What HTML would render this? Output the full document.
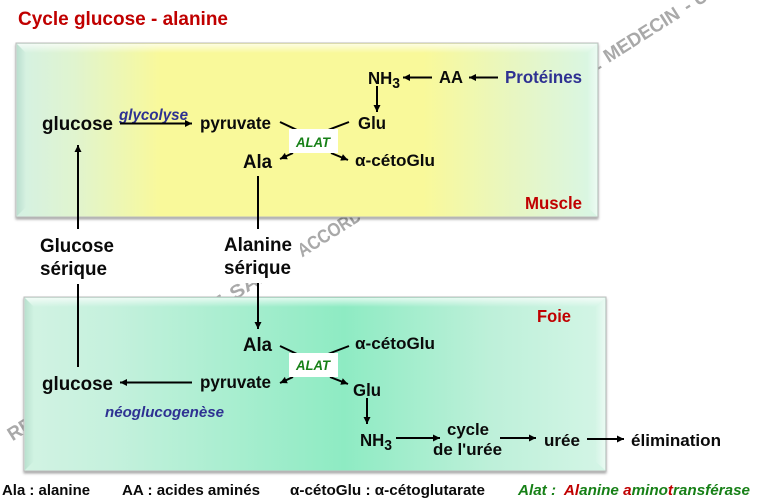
<!DOCTYPE html>
<html><head><meta charset="utf-8"><style>
html,body{margin:0;padding:0;background:#fff}
svg{display:block}
text{font-family:"Liberation Sans",sans-serif;font-weight:bold;fill:#0a0a0a}
.i{font-style:italic}
.b{fill:#2e3192}.r{fill:#c00000}.g{fill:#178017}
line{stroke:#000;stroke-width:2}
</style></head><body>
<svg width="771" height="502" viewBox="0 0 771 502" xmlns="http://www.w3.org/2000/svg">
<defs>
<marker id="a" markerUnits="userSpaceOnUse" markerWidth="9" markerHeight="8" refX="7" refY="4" orient="auto"><path d="M0 .5L7 4L0 7.5z" fill="#000"/></marker>
<linearGradient id="y" x1="0" x2="1" y1="0" y2="0">
<stop offset="0" stop-color="#d4f1e4"/><stop offset=".1" stop-color="#e0f4cf"/><stop offset=".25" stop-color="#f9f99a"/><stop offset=".7" stop-color="#f9f99a"/><stop offset=".88" stop-color="#e5f6c8"/><stop offset="1" stop-color="#d8f6e6"/></linearGradient>
<linearGradient id="f" x1="0" x2="1" y1="0" y2="0">
<stop offset="0" stop-color="#d2f3e3"/><stop offset=".15" stop-color="#c5f1dd"/><stop offset=".55" stop-color="#8eebc3"/><stop offset=".8" stop-color="#bdf0d9"/><stop offset="1" stop-color="#d4f5e6"/></linearGradient>
<linearGradient id="tw" x1="0" x2="0" y1="0" y2="1"><stop offset="0" stop-color="#fff" stop-opacity=".7"/><stop offset="1" stop-color="#fff" stop-opacity="0"/></linearGradient>
<linearGradient id="ld" x1="0" x2="1" y1="0" y2="0"><stop offset="0" stop-color="#7fb5a0" stop-opacity=".3"/><stop offset="1" stop-color="#7fb5a0" stop-opacity="0"/></linearGradient>
<linearGradient id="rl" x1="1" x2="0" y1="0" y2="0"><stop offset="0" stop-color="#fff" stop-opacity=".5"/><stop offset="1" stop-color="#fff" stop-opacity="0"/></linearGradient>
<filter id="s" x="-2%" y="-3%" width="104%" height="108%"><feDropShadow dx="0" dy="2" stdDeviation="1.2" flood-color="#000" flood-opacity=".35"/></filter>
</defs>

<g transform="translate(10 443) rotate(-32.4)" style="font-size:19px">
<text x="3" y="0" style="fill:#a9a9a9" textLength="255" lengthAdjust="spacingAndGlyphs">REPRODUCTION INTERDITE</text>
<text x="266" y="0" style="fill:#a9a9a9" textLength="60" lengthAdjust="spacingAndGlyphs">SANS</text>
<text x="346" y="0" style="fill:#a9a9a9" textLength="72" lengthAdjust="spacingAndGlyphs">ACCORD</text>
<text x="689" y="0" style="fill:#a9a9a9">E</text>
<text x="709" y="0" style="fill:#a9a9a9" textLength="86" lengthAdjust="spacingAndGlyphs">MEDECIN</text>
<text x="803" y="0" style="fill:#a9a9a9">- U</text>
</g>
<rect x="222" y="232" width="78" height="51" fill="#fff"/>

<text x="18" y="25" class="r" style="font-size:19.5px" textLength="210" lengthAdjust="spacingAndGlyphs">Cycle glucose - alanine</text>

<!-- Muscle panel -->
<rect x="16" y="43" width="582" height="174" fill="url(#y)" stroke="#bdbdbd" filter="url(#s)"/>
<polygon points="17,44 597,44 587,53 26,53" fill="url(#tw)"/>
<polygon points="17,44 26,53 26,207 17,216" fill="url(#ld)"/>
<polygon points="597,44 587,53 587,207 597,216" fill="url(#rl)"/>

<!-- Foie panel -->
<rect x="24" y="297" width="582" height="174" fill="url(#f)" stroke="#bdbdbd" filter="url(#s)"/>
<polygon points="25,298 605,298 595,307 34,307" fill="url(#tw)"/>
<polygon points="25,298 34,307 34,461 25,470" fill="url(#ld)"/>
<polygon points="605,298 595,307 595,461 605,470" fill="url(#rl)"/>

<!-- Muscle content -->
<text x="42" y="130" style="font-size:19px" textLength="71" lengthAdjust="spacingAndGlyphs">glucose</text>
<text x="119" y="120" class="i b" style="font-size:15.5px" textLength="69" lengthAdjust="spacingAndGlyphs">glycolyse</text>
<line x1="120" y1="123.5" x2="192" y2="123.5" marker-end="url(#a)"/>
<text x="200" y="129" style="font-size:17.5px" textLength="71" lengthAdjust="spacingAndGlyphs">pyruvate</text>
<text x="358" y="129" style="font-size:17.5px" textLength="28" lengthAdjust="spacingAndGlyphs">Glu</text>
<text x="243" y="168" style="font-size:19.5px" textLength="29" lengthAdjust="spacingAndGlyphs">Ala</text>
<text x="355" y="166" style="font-size:17px" textLength="80" lengthAdjust="spacingAndGlyphs">α-cétoGlu</text>
<text x="368" y="84" style="font-size:17.5px" textLength="32" lengthAdjust="spacingAndGlyphs">NH<tspan dy="4" style="font-size:14.5px">3</tspan></text>
<text x="439" y="83" style="font-size:17.5px" textLength="24" lengthAdjust="spacingAndGlyphs">AA</text>
<text x="505" y="83" class="b" style="font-size:17.5px" textLength="77" lengthAdjust="spacingAndGlyphs">Protéines</text>
<text x="525" y="209" class="r" style="font-size:17.5px" textLength="57" lengthAdjust="spacingAndGlyphs">Muscle</text>
<line x1="432" y1="77.5" x2="403" y2="77.5" marker-end="url(#a)"/>
<line x1="498" y1="77.5" x2="469" y2="77.5" marker-end="url(#a)"/>
<line x1="377" y1="86" x2="377" y2="112" marker-end="url(#a)"/>
<line x1="280" y1="122" x2="297" y2="130"/>
<line x1="349" y1="122" x2="328" y2="130"/>
<line x1="293" y1="153" x2="280" y2="159" marker-end="url(#a)"/>
<line x1="331" y1="153" x2="348" y2="160" marker-end="url(#a)"/>
<rect x="289" y="129" width="49" height="24" fill="#fff"/>
<text x="296" y="147" class="i g" style="font-size:14px" textLength="34" lengthAdjust="spacingAndGlyphs">ALAT</text>

<!-- Connectors between panels -->
<line x1="78" y1="229" x2="78" y2="145" marker-end="url(#a)"/>
<line x1="258" y1="176" x2="258" y2="229"/>
<text x="40" y="252" style="font-size:19px" textLength="74" lengthAdjust="spacingAndGlyphs">Glucose</text>
<text x="40" y="275" style="font-size:19px" textLength="67" lengthAdjust="spacingAndGlyphs">sérique</text>
<text x="224" y="251" style="font-size:19px" textLength="68" lengthAdjust="spacingAndGlyphs">Alanine</text>
<text x="224" y="274" style="font-size:19px" textLength="67" lengthAdjust="spacingAndGlyphs">sérique</text>
<line x1="78" y1="284" x2="78" y2="367"/>
<line x1="258" y1="283" x2="258" y2="329" marker-end="url(#a)"/>

<!-- Foie content -->
<text x="537" y="322" class="r" style="font-size:17.5px" textLength="34" lengthAdjust="spacingAndGlyphs">Foie</text>
<text x="243" y="351" style="font-size:19.5px" textLength="29" lengthAdjust="spacingAndGlyphs">Ala</text>
<text x="355" y="349" style="font-size:17px" textLength="80" lengthAdjust="spacingAndGlyphs">α-cétoGlu</text>
<line x1="280" y1="346" x2="297" y2="354"/>
<line x1="349" y1="346" x2="328" y2="354"/>
<line x1="293" y1="377" x2="280" y2="383" marker-end="url(#a)"/>
<line x1="330" y1="377" x2="348" y2="384" marker-end="url(#a)"/>
<rect x="289" y="353" width="49" height="24" fill="#fff"/>
<text x="296" y="370" class="i g" style="font-size:14px" textLength="34" lengthAdjust="spacingAndGlyphs">ALAT</text>
<text x="42" y="390" style="font-size:19px" textLength="71" lengthAdjust="spacingAndGlyphs">glucose</text>
<text x="200" y="388" style="font-size:17.5px" textLength="71" lengthAdjust="spacingAndGlyphs">pyruvate</text>
<line x1="192" y1="382.5" x2="120" y2="382.5" marker-end="url(#a)"/>
<text x="105" y="417" class="i b" style="font-size:15px" textLength="119" lengthAdjust="spacingAndGlyphs">néoglucogenèse</text>
<text x="353" y="396" style="font-size:17.5px" textLength="28" lengthAdjust="spacingAndGlyphs">Glu</text>
<line x1="367" y1="398" x2="367" y2="424" marker-end="url(#a)"/>
<text x="360" y="446" style="font-size:17.5px" textLength="32" lengthAdjust="spacingAndGlyphs">NH<tspan dy="4" style="font-size:14.5px">3</tspan></text>
<line x1="396" y1="438" x2="440" y2="438" marker-end="url(#a)"/>
<text x="447" y="435" style="font-size:17px" textLength="42" lengthAdjust="spacingAndGlyphs">cycle</text>
<text x="433" y="455" style="font-size:17px" textLength="69" lengthAdjust="spacingAndGlyphs">de l'urée</text>
<line x1="500" y1="438" x2="536" y2="438" marker-end="url(#a)"/>
<text x="544" y="446" style="font-size:17px" textLength="36" lengthAdjust="spacingAndGlyphs">urée</text>
<line x1="587" y1="439" x2="624" y2="439" marker-end="url(#a)"/>
<text x="631" y="446" style="font-size:17px" textLength="90" lengthAdjust="spacingAndGlyphs">élimination</text>

<!-- Legend -->
<text x="2" y="495" style="font-size:15px" textLength="88" lengthAdjust="spacingAndGlyphs">Ala : alanine</text>
<text x="122" y="495" style="font-size:15px" textLength="138" lengthAdjust="spacingAndGlyphs">AA : acides aminés</text>
<text x="290" y="495" style="font-size:15px" textLength="195" lengthAdjust="spacingAndGlyphs">α-cétoGlu : α-cétoglutarate</text>
<text x="518" y="495" class="i g" style="font-size:15px" xml:space="preserve" textLength="232" lengthAdjust="spacingAndGlyphs">Alat :  <tspan class="r">Al</tspan>anine <tspan class="r">a</tspan>mino<tspan class="r">t</tspan>ransférase</text>
</svg>
</body></html>
